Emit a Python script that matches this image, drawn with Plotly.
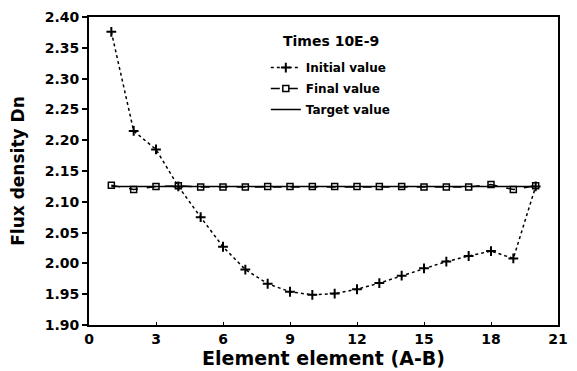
import plotly.graph_objects as go

elements = list(range(1, 21))
initial_value = [2.376, 2.215, 2.185, 2.125, 2.075, 2.027, 1.990, 1.967, 1.954, 1.949,
                 1.951, 1.958, 1.968, 1.980, 1.992, 2.003, 2.012, 2.020, 2.008, 2.125]
final_value = [2.127, 2.120, 2.125, 2.126, 2.124, 2.124, 2.124, 2.125, 2.125, 2.125,
               2.125, 2.125, 2.125, 2.125, 2.124, 2.124, 2.124, 2.128, 2.120, 2.126]
target_value = [2.125] * 20
x_ticks = [0, 3, 6, 9, 12, 15, 18, 21]
y_ticks = [1.90, 1.95, 2.00, 2.05, 2.10, 2.15, 2.20, 2.25, 2.30, 2.35, 2.40]
legend_title = "Times 10E-9"

font_family = "DejaVu Sans, sans-serif"

fig = go.Figure()
fig.add_trace(go.Scatter(
    x=elements, y=initial_value, name="Initial value", mode="lines+markers",
    legendgroup="a",
    line=dict(color="black", width=1.5, dash="dot"),
    marker=dict(symbol="cross-thin", size=7, line=dict(color="black", width=2)),
))
fig.add_trace(go.Scatter(
    x=elements, y=final_value, name="Final value", mode="lines+markers",
    legendgroup="b",
    line=dict(color="black", width=1.5, dash="dash"),
    marker=dict(symbol="square-open", size=6, color="black", line=dict(color="black", width=1.5)),
))
fig.add_trace(go.Scatter(
    x=elements, y=target_value, name="Target value", mode="lines",
    legendgroup="c",
    line=dict(color="black", width=1.5),
))

fig.add_annotation(
    x=0.516, y=0.923, xref="paper", yref="paper", xanchor="center", yanchor="middle",
    text=legend_title, showarrow=False,
    font=dict(size=14, family=font_family, weight="bold", color="black"),
)

fig.update_layout(
    width=577, height=371,
    margin=dict(l=81, r=27, t=9, b=54, autoexpand=False),
    paper_bgcolor="white", plot_bgcolor="white",
    font=dict(family=font_family, color="black", size=12, weight="bold"),
    showlegend=True,
    legend=dict(
        x=0.377, y=0.883, xanchor="left", yanchor="top",
        bgcolor="rgba(0,0,0,0)",
        font=dict(size=12, family=font_family, weight="bold"),
        traceorder="grouped", tracegroupgap=2, itemwidth=30,
    ),
    xaxis=dict(
        range=[0, 21], tickvals=x_ticks, ticktext=[str(v) for v in x_ticks],
        showgrid=False, zeroline=False, showline=True, linecolor="black", linewidth=2,
        mirror=True, ticks="inside", ticklen=3, tickcolor="black", automargin=False,
        tickfont=dict(size=14, weight="bold"), ticklabeloverflow="allow",
        title=dict(text="Element element (A-B)", font=dict(size=19, weight="bold"), standoff=3),
    ),
    yaxis=dict(
        range=[1.90, 2.40], tickvals=y_ticks, ticktext=[f"{v:.2f}" for v in y_ticks],
        showgrid=False, zeroline=False, showline=True, linecolor="black", linewidth=2,
        mirror=True, ticks="outside", ticklen=5, tickcolor="black", tickwidth=1.5,
        tickfont=dict(size=14, weight="bold"), automargin=False, ticklabeloverflow="allow",
        title=dict(text="Flux density Dn", font=dict(size=17, weight="bold"), standoff=18),
    ),
)

fig.write_html("out.html")
